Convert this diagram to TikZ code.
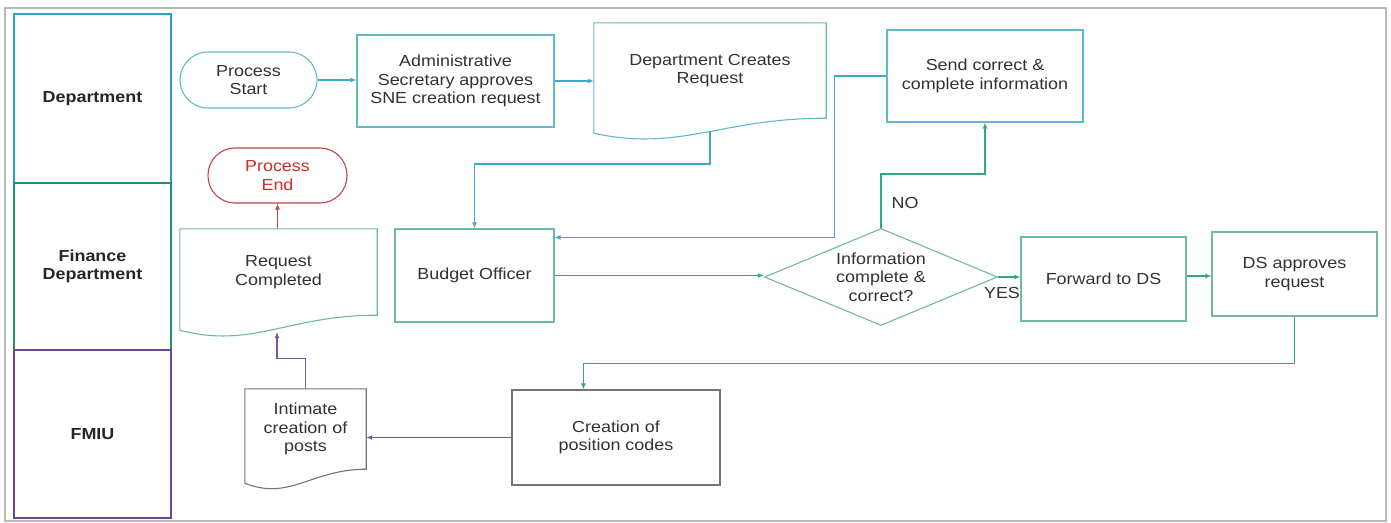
\documentclass[tikz,border=0pt]{standalone}
\usepackage{fontspec}
\setmainfont[FakeStretch=1.12]{Liberation Sans}
\usetikzlibrary{shapes.geometric,arrows.meta,calc}
\definecolor{framegray}{RGB}{185,185,185}
\definecolor{lanedept}{RGB}{40,160,195}
\definecolor{lanefin}{RGB}{30,150,100}
\definecolor{lanefmiu}{RGB}{110,70,150}
\definecolor{boxdept}{RGB}{100,185,200}
\definecolor{boxfin}{RGB}{110,185,160}
\definecolor{boxfmiu}{RGB}{125,110,125}
\definecolor{endred}{RGB}{190,70,70}
\definecolor{txtred}{RGB}{205,45,45}
\definecolor{arrcyan}{RGB}{60,170,200}
\definecolor{arrgreen}{RGB}{50,170,120}
\definecolor{arrpurple}{RGB}{120,85,160}
\definecolor{txt}{RGB}{50,50,50}
\tikzset{
  lane/.style={draw, line width=2.6pt, inner sep=0pt, font=\fontsize{16}{18.5}\selectfont\bfseries, align=center, text=black!85},
  procbox/.style={draw, line width=1.1pt, inner sep=0pt, align=center, text=txt},
  docbox/.style={draw=none, inner sep=0pt, align=center, text=txt},
  docline/.style={line width=1.1pt},
  conn/.style={line width=1.2pt, -{Latex[length=6pt,width=5pt]}},
  lbl/.style={inner sep=0pt, text=txt}
}
\begin{document}
\begin{tikzpicture}[x=1pt,y=-1pt,font=\fontsize{16}{18.5}\selectfont]
\useasboundingbox (0,0) rectangle (1391,522);
\fill[white] (0,0) rectangle (1391,522);
\draw[framegray, line width=2pt] (5,8) rectangle (1386,521);

% lanes
\node[lane, draw=lanedept, minimum width=157, minimum height=169] (ldept) at (92.5,98.5) {Department};
\node[lane, draw=lanefin, minimum width=157, minimum height=167] (lfin) at (92.5,266.5) {Finance\\Department};
\node[lane, draw=lanefmiu, minimum width=157, minimum height=168] (lfmiu) at (92.5,434) {FMIU};

% department row
\node[procbox, draw=boxdept, minimum width=137, minimum height=56, rounded corners=28pt] (start) at (248.5,80) {Process\\Start};
\node[procbox, draw=boxdept, minimum width=197, minimum height=92] (admin) at (455.5,81) {Administrative\\Secretary approves\\SNE creation request};
\node[docbox, minimum width=232, minimum height=95] (dcr) at (710,70.5) {Department Creates\\Request};
\draw[docline, boxdept] (dcr.north west) -- (dcr.north east) -- (dcr.south east)
  .. controls +(-106,0) and +(86,19) .. ($(dcr.south west)+(0,15)$) -- cycle;
\node[procbox, draw=boxdept, minimum width=196, minimum height=92] (send) at (985,76) {Send correct \&\\complete information};

% finance row
\node[procbox, draw=endred, text=txtred, minimum width=139, minimum height=55, rounded corners=27pt] (endn) at (277.5,175.5) {Process\\End};
\node[docbox, minimum width=197, minimum height=86] (req) at (278.5,272) {Request\\Completed};
\draw[docline, boxfin] (req.north west) -- (req.north east) -- (req.south east)
  .. controls +(-90,0) and +(73,19) .. ($(req.south west)+(0,15)$) -- cycle;
\node[procbox, draw=boxfin, minimum width=159, minimum height=93] (budget) at (474.5,275.5) {Budget Officer};
\node[procbox, draw=boxfin, shape=diamond, aspect=2.4, minimum width=233, minimum height=97] (dia) at (881,277) {Information\\complete \&\\correct?};
\node[procbox, draw=boxfin, minimum width=165, minimum height=84] (fwd) at (1103.5,279) {Forward to DS};
\node[procbox, draw=boxfin, minimum width=165, minimum height=84] (dsa) at (1294.5,274) {DS approves\\request};

% fmiu row
\node[procbox, draw=boxfmiu, minimum width=208, minimum height=95] (cre) at (616,437.5) {Creation of\\position codes};
\node[docbox, minimum width=121, minimum height=80] (int) at (305.5,429) {Intimate\\creation of\\posts};
\draw[docline, boxfmiu] (int.north west) -- (int.north east) -- (int.south east)
  .. controls +(-55,0) and +(45,18) .. ($(int.south west)+(0,14)$) -- cycle;

% labels
\node[lbl] (no) at (905,203) {NO};
\node[lbl] (yes) at (1002,293) {YES};

% helper coordinates on wavy edges
\coordinate (dcrb) at (710,131);
\coordinate (reqb) at (277,332);

% connectors
\draw[conn, arrcyan] (start.east) -- (start.east -| admin.west);
\draw[conn, arrcyan] (admin.east) -- (admin.east -| dcr.west);
\draw[conn, arrcyan] (dcrb) -- ++(0,33) -| (budget.north);
\draw[conn, arrcyan] (send.west) -- ++(-52,0) |- ($(budget.north east)+(0,9)$);
\draw[conn, arrgreen] (budget.east) -- (budget.east -| dia.west);
\draw[conn, arrgreen] (dia.north) -- ++(0,-54) -| (send.south);
\draw[conn, arrgreen] (dia.east) -- (dia.east -| fwd.west);
\draw[conn, arrgreen] ($(fwd.east)+(0,-3)$) -- ($(dsa.west)+(0,2)$);
\draw[conn, arrgreen] (dsa.south) -- ++(0,47) -| ($(cre.north west)+(72,0)$);
\draw[conn, arrpurple] (cre.west) -- (cre.west -| int.east);
\draw[conn, arrpurple] (int.north) -- ++(0,-30) -| (reqb);
\draw[conn, endred] (req.north -| endn.south) -- (endn.south);
\end{tikzpicture}
\end{document}
